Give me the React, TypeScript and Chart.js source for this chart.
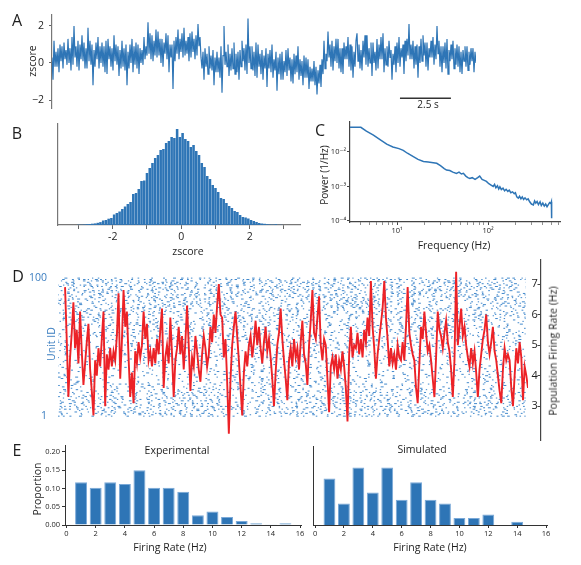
import React, { useEffect, useRef } from 'react';
import { Chart, registerables } from 'chart.js';

Chart.register(...registerables);

const FONT = "'Open Sans', 'DejaVu Sans', sans-serif";
const BLUE = '#2e75b6';
const RASTER_BLUE = '#4289cc';
const LABEL_BLUE = '#3a7dc0';
const RED = '#ec2227';
const TEXT = '#1e1e1e';

// ---------- Panel A: z-scored trace ----------
const traceA = [
  0.3,-0.9,1.2,-0.2,0.6, -0.2,0.8,-0.5,1.0,0.1, 0.9,-0.3,1.1,0.2,0.7, -0.1,1.3,0.0,0.8,-0.4,
  1.4,-0.1,2.0,0.3,0.9, -0.2,1.2,-0.4,1.0,0.2, 1.5,0.1,1.1,-0.3,0.8, -0.3,1.9,0.1,1.2,-0.1,
  1.0,-1.2,0.7,-0.2,1.1, 0.2,1.4,-0.3,0.9,0.0, 1.1,-0.2,0.9,-0.5,1.2, -0.6,1.3,0.2,0.9,-0.2,
  0.8,-0.4,1.5,0.1,1.0, -0.1,0.9,-0.7,0.7,-0.3, 1.2,-0.2,0.8,-0.4,1.0, -1.2,0.6,-0.3,1.0,0.0,
  1.3,-0.5,0.9,-0.1,1.1, -0.3,1.0,-0.6,0.8,0.0, 0.7,-0.1,1.4,0.2,0.9, 0.4,2.2,0.5,1.6,0.2,
  1.5,0.1,1.2,0.4,1.8, 0.3,1.7,0.4,1.3,0.0, 1.3,-0.2,1.1,0.5,1.6, 0.2,1.5,-0.5,1.0,0.3,
  1.0,-1.4,1.2,0.1,1.4, 0.5,1.8,0.2,1.3,0.6, 1.6,0.3,1.9,0.4,1.2, 0.5,1.4,0.1,1.6,0.3,
  1.7,0.6,1.3,0.2,1.5, 0.4,2.1,0.9,1.4,0.3, -0.3,0.6,-0.9,0.8,-0.2, 0.5,-0.6,0.9,-0.3,0.4,
  -0.4,0.7,-1.2,0.3,-0.5, 0.6,-0.5,0.3,-0.8,0.9, -1.6,0.4,2.0,-0.1,0.6, -0.2,1.0,-0.7,0.5,-0.4,
  0.8,-0.3,1.1,-0.6,0.5, -0.5,0.6,-0.9,0.7,-0.2, 1.2,0.1,0.8,-0.4,1.0, -0.6,2.4,0.0,0.9,-0.3,
  0.9,-0.4,0.6,-0.7,1.1, -0.8,1.0,-0.2,0.5,-0.6, 0.7,-0.9,0.4,-0.3,0.8, -1.3,0.5,-0.3,0.7,-0.5,
  1.0,-0.8,0.2,-0.4,0.6, -1.5,0.3,-0.6,0.5,-0.9, 0.6,-0.9,0.1,-0.5,0.7, -0.7,0.8,-0.4,0.3,-1.0,
  0.2,-1.1,0.5,-0.6,0.4, -0.5,0.9,-0.9,0.2,-0.7, 0.1,-1.2,0.4,-0.8,0.3, -0.8,0.2,-1.4,-0.2,-1.0,
  -0.3,-1.0,0.1,-1.2,-0.2, -1.7,-0.4,-1.1,-0.1,-1.3, 0.2,-0.6,1.2,-0.3,0.5, 0.1,1.7,0.3,1.0,-0.2,
  1.2,-0.4,0.9,0.1,1.3, 0.0,1.3,-0.3,0.8,-0.5, 0.8,-0.6,1.1,0.2,0.9, 0.2,1.4,-0.2,1.0,-0.4,
  0.9,-0.8,0.6,-0.2,1.2, 1.6,0.1,1.0,-0.3,0.7, -0.4,1.2,0.3,1.5,-0.1, 1.5,-0.2,0.8,0.0,1.1,
  -0.7,1.1,0.0,0.6,-0.4, 1.3,-0.3,1.0,0.2,1.4, 0.2,1.6,-0.5,0.8,-0.1, 0.9,-0.2,1.2,0.3,0.7,
  -0.9,0.5,-0.1,0.9,-0.5, 1.1,0.0,1.4,-0.2,0.8, 0.3,1.0,-0.6,1.2,0.1, 1.3,0.4,2.1,0.2,1.0,
  0.2,1.2,-0.3,0.9,-0.1, 1.0,-0.8,0.9,0.0,1.3, 0.1,1.5,0.4,1.1,-0.2, 1.1,-0.4,0.8,0.3,1.2,
  0.3,1.4,-0.1,1.0,0.2, 2.0,0.5,1.2,-0.2,0.9, -0.5,0.9,0.0,1.1,-0.3, 1.3,-0.6,0.7,0.1,1.0,
  0.2,1.2,-0.3,0.8,-0.1, 1.0,-0.2,0.9,-0.5,0.6, -0.6,0.7,0.1,0.9,-0.2, 0.9,-0.4,0.6,-0.1,0.8,
  0.1,0.8,-0.5,0.6,0.0
];
const traceADuration = 20.8; // seconds
const scaleBarStart = 17.07;
const scaleBarLength = 2.5;
const scaleBarLevel = -1.9;
const ticksA = [-2, 0, 2];

// ---------- Panel B: histogram of z-scores ----------
const histBFirstCenter = -3.16;
const histBBinWidth = 0.08;
const histB = [
  0,0,0.3,0.3,0.5,0.8,1.0,1.3,1.6,2.2,2.9,4.5,5.0,6.3,7.0,10.5,12,13.5,16,18.5,
  21,23,31,32,36,44,44.5,52,57,62,67,70,75,76,82,84,88,87,96,88,
  92,86,84,78,80,74,70,62,58,49,46,40,37,33,27,26,22,19,17,14,
  13,10,8,7.5,6.5,5,4,3,2,1.5,1.2,0.8,0.5,0.4,0.8,0.2,0.2,0,0,0
];
const ticksB = [-3, -2, -1, 0, 1, 2, 3];

// ---------- Panel C: power spectrum ----------
const freqC = [
  3.04,4.0,4.6,5.5,6.5,7.7,9.0,10.5,11.7,13,15.1,17,19.5,22,25,27.3,30,33,35,38,
  41,45,48,51,53.6,57,60,63,67,72,77,81,86,91,96,102,108,114,118,122,
  127,131,135,140,146,152,158,165,171,178,186,194,200,207,215,222,230,238,246,255,
  266,276,287,300,315,325,335,346,358,373,385,400,415,430,445,460,475,490,497,500
];
const powerC = [
  0.052,0.052,0.040,0.031,0.023,0.0168,0.0140,0.0125,0.0112,0.0092,0.0073,0.0061,0.0053,0.0051,0.0049,0.0047,0.0040,0.0033,0.0030,0.0029,
  0.0026,0.0024,0.0026,0.0023,0.0024,0.0020,0.0018,0.0017,0.0018,0.0016,0.0018,0.0020,0.0016,0.0015,0.0014,0.0012,0.0011,0.00100,0.00115,0.00092,
  0.00105,0.00085,0.00098,0.00082,0.00090,0.00075,0.00083,0.00072,0.00078,0.00066,0.00070,0.00062,0.00066,0.00050,0.00046,0.00052,0.00044,0.00050,0.00042,0.00047,
  0.00041,0.00044,0.00036,0.00031,0.00029,0.00038,0.00033,0.00037,0.00030,0.00036,0.00028,0.00033,0.00027,0.00031,0.00026,0.00030,0.00034,0.00032,0.00036,0.00012
];
const ticksCX = [4,5,6,7,8,9,10,20,30,40,50,60,70,80,90,100,200,300,400,500,600];
const labeledCX = [1, 2];
const ticksCY = [1e-4, 1e-3, 1e-2];

// ---------- Panel D: raster + population rate ----------
const rateD = [
  6.9,5.2,3.3,4.6,5.4,6.4,4.9,5.5,4.4,6.1,4.8,3.7,4.4,5.1,5.7,4.2,3.5,2.7,4.5,4.0,4.9,4.3,5.2,6.1,
  3.0,4.7,4.2,4.9,4.3,4.8,4.5,5.3,6.7,3.9,5.1,6.8,5.6,6.1,4.6,3.3,4.1,3.1,4.8,4.4,5.1,4.6,5.0,6.1,
  5.2,5.7,4.5,4.8,4.3,4.9,4.4,5.2,4.7,5.5,6.2,3.6,4.6,5.0,4.4,5.9,4.7,3.3,4.5,4.9,5.6,4.7,5.3,4.2,
  5.1,6.3,5.0,3.5,4.6,4.3,5.3,4.8,4.2,3.8,4.7,5.3,4.9,4.3,4.7,5.6,5.1,6.0,5.4,6.3,7.0,6.0,5.9,4.6,
  5.2,3.8,2.1,3.9,5.0,5.6,6.1,5.3,4.5,3.6,2.7,4.1,4.8,4.3,5.0,5.3,4.6,5.1,5.8,5.0,5.6,4.9,4.4,5.1,
  5.6,4.8,5.2,4.6,3.9,3.0,4.1,5.0,5.4,6.2,5.2,4.5,3.9,3.2,4.5,4.9,4.3,5.2,4.6,4.9,4.2,5.1,5.8,4.7,
  4.4,3.7,5.0,5.8,6.8,5.4,5.2,5.9,6.6,5.0,4.5,5.2,5.0,3.9,2.8,4.3,4.6,4.2,4.7,3.9,4.5,4.2,4.8,4.3,
  3.6,2.5,4.7,5.6,4.6,5.0,4.9,5.4,4.7,5.2,4.6,5.5,5.1,5.9,5.3,7.1,5.6,4.9,3.9,4.7,5.2,5.7,6.2,7.1,
  5.9,5.2,4.3,4.9,4.4,4.7,4.2,5.0,4.6,4.5,5.1,4.5,5.6,6.9,5.4,5.0,4.7,4.5,3.6,3.1,4.4,5.6,5.2,6.1,
  5.4,4.8,5.0,4.5,3.9,3.3,4.6,6.1,5.5,5.3,4.9,5.4,5.8,5.1,4.8,4.2,3.3,4.5,7.4,5.0,5.6,6.2,5.3,5.6,
  5.0,4.6,4.3,4.9,4.4,4.8,4.1,3.3,4.2,4.7,5.2,5.5,6.0,5.1,4.7,5.1,5.6,4.8,4.5,4.0,3.5,3.1,4.2,4.9,
  4.5,4.7,4.5,3.6,3.0,4.0,4.9,4.4,5.1,4.6,3.2,4.3,4.0,3.6
];
const rateStart = 0.3;
const rateEnd = 20;
const rasterDuration = 19.9;
const timeAxisMax = 20;
// relative spike density of each unit, unit 1 (bottom) to unit 100 (top)
const unitDensity = [
  0.9,0.7,1.0,0.8,0.6,0.9,0.75,0.85,0.5,0.95,
  0.7,0.8,0.55,0.9,0.65,0.75,0.45,0.8,0.6,0.7,
  0.4,0.55,0.35,0.6,0.45,0.3,0.5,0.4,0.55,0.35,
  0.45,0.3,0.5,0.4,0.25,0.45,0.35,0.5,0.3,0.4,
  0.55,0.35,0.45,0.6,0.3,0.5,0.4,0.55,0.45,0.35,
  0.5,0.6,0.4,0.55,0.65,0.45,0.6,0.5,0.7,0.4,
  0.6,0.5,0.7,0.45,0.65,0.55,0.75,0.5,0.6,0.7,
  0.65,0.8,0.55,0.7,0.85,0.6,0.75,0.9,0.65,0.8,
  0.7,0.9,0.8,0.6,0.95,0.75,0.85,1.0,0.7,0.9,
  0.8,1.0,0.85,0.75,0.95,0.9,1.0,0.8,0.95,0.85
];
const ticksDUnit = [1, 100];
const ticksDRate = [3, 4, 5, 6, 7];

// ---------- Panel E: firing-rate distributions ----------
const binsE = [1,2,3,4,5,6,7,8,9,10,11,12,13,14,15];
const experimentalE = [0.117,0.102,0.117,0.112,0.150,0.102,0.102,0.091,0.027,0.037,0.022,0.011,0.005,0.001,0.005];
const simulatedE = [0.127,0.059,0.157,0.089,0.157,0.069,0.117,0.069,0.059,0.019,0.019,0.029,0,0.009,0];
const ticksEX = [0,2,4,6,8,10,12,14,16];
const ticksEY = [0,0.05,0.10,0.15,0.20];

// ---------- helpers ----------
// dot-and-gap line style used to render each raster row as a spike train
const DASH_LEN = [1.6, 2.4, 1.4, 3.0, 1.8, 2.0, 1.5, 2.6, 1.3];
const GAP_LEN = [3.5, 7, 2.5, 10, 4.5, 6, 3, 12, 5, 8, 2.8, 15, 4, 9, 6.5, 3.8, 11];
function rasterDash(k: number, density: number): number[] {
  const out: number[] = [];
  for (let j = 0; j < 64; j++) {
    out.push(DASH_LEN[(k * 7 + j * j * 3 + j) % DASH_LEN.length]);
    out.push((GAP_LEN[(k * 17 + j * j * 5 + j * 3) % GAP_LEN.length] / density) * 0.85);
  }
  return out;
}
const rasterOffset = (k: number) => ((k * k * 13 + k * 7) % 53) * 3.1;

const SUP: Record<string, string> = { '-': '\u207B', '0': '\u2070', '1': '\u00B9', '2': '\u00B2', '3': '\u00B3', '4': '\u2074' };
const sup = (n: number) => String(n).split('').map((c) => SUP[c]).join('');
const fixW = (w: number) => (s: any) => { s.width = w; };
const fixH = (h: number) => (s: any) => { s.height = h; };
const setTicks = (vals: number[]) => (s: any) => { s.ticks = vals.map((v) => ({ value: v })); };
const font = (size: number) => ({ size, family: FONT });

const base = {
  responsive: false,
  animation: false as const,
  events: [] as any[],
  normalized: true,
  plugins: { legend: { display: false }, tooltip: { enabled: false }, title: { display: false } },
};

function ChartBox({ left, top, width, height, make }: { left: number; top: number; width: number; height: number; make: () => any }) {
  const ref = useRef<HTMLCanvasElement>(null);
  useEffect(() => {
    const chart = new Chart(ref.current as HTMLCanvasElement, make());
    return () => chart.destroy();
  }, []);
  return (
    <div style={{ position: 'absolute', left, top, width, height }}>
      <canvas ref={ref} width={width} height={height} style={{ width, height, display: 'block' }} />
    </div>
  );
}

function Label({ x, y, text, size = 10.5, rotate = false, color = TEXT }: { x: number; y: number; text: string; size?: number; rotate?: boolean; color?: string }) {
  return (
    <div
      style={{
        position: 'absolute', left: x, top: y, fontFamily: FONT, fontSize: size, lineHeight: 1, color,
        whiteSpace: 'nowrap', transform: `translate(-50%, -50%)${rotate ? ' rotate(-90deg)' : ''}`,
      }}
    >
      {text}
    </div>
  );
}

// ---------- chart configs ----------
const makeA = () => ({
  type: 'line',
  data: {
    datasets: [
      {
        data: traceA.map((v, i) => ({ x: (i * traceADuration) / (traceA.length - 1), y: v })),
        borderColor: BLUE, borderWidth: 1.2, pointRadius: 0, tension: 0,
      },
      {
        data: [
          { x: scaleBarStart, y: scaleBarLevel },
          { x: scaleBarStart + scaleBarLength, y: scaleBarLevel },
        ],
        borderColor: '#333', borderWidth: 1.6, pointRadius: 0,
      },
    ],
  },
  options: {
    ...base,
    layout: { padding: { left: 0, top: 15, right: 14, bottom: 12 }, autoPadding: false },
    scales: {
      x: { type: 'linear', min: 0, max: traceADuration, display: false },
      y: {
        type: 'linear', min: -2.43, max: 2.59, afterFit: fixW(52), afterBuildTicks: setTicks(ticksA),
        ticks: { callback: (v: number) => (v < 0 ? '\u2212' + Math.abs(v) : String(v)), font: font(10.5), color: TEXT, padding: 5 },
        grid: { drawOnChartArea: false, tickLength: 3, color: '#666' },
        border: { color: '#777', width: 1.2 },
      },
    },
  },
});

const makeB = () => ({
  type: 'bar',
  data: {
    datasets: [
      {
        data: histB.map((h, i) => ({ x: histBFirstCenter + i * histBBinWidth, y: h })),
        backgroundColor: BLUE, borderWidth: 0, barPercentage: 0.93, categoryPercentage: 1,
      },
    ],
  },
  options: {
    ...base,
    layout: { padding: { left: 0, top: 9, right: 20, bottom: 0 }, autoPadding: false },
    scales: {
      x: {
        type: 'linear', min: -3.6, max: 3.47, offset: false, afterFit: fixH(40), afterBuildTicks: setTicks(ticksB),
        ticks: { callback: (v: number) => (Math.round(v) % 2 === 0 ? String(Math.round(v)) : ''), font: font(10.5), color: TEXT, padding: 2, maxRotation: 0, autoSkip: false },
        grid: { drawOnChartArea: false, tickLength: 4, color: '#666', offset: false },
        border: { color: '#777', width: 1.2 },
      },
      y: {
        type: 'linear', min: 0, max: 101, afterFit: fixW(58),
        ticks: { display: false }, grid: { display: false },
        border: { color: '#777', width: 1.2 },
      },
    },
  },
});

const makeC = () => ({
  type: 'line',
  data: {
    datasets: [
      {
        data: freqC.map((f, i) => ({ x: f, y: powerC[i] })),
        borderColor: BLUE, borderWidth: 1.5, pointRadius: 0, tension: 0,
      },
    ],
  },
  options: {
    ...base,
    layout: { padding: { left: 0, top: 12, right: 21, bottom: 0 }, autoPadding: false },
    scales: {
      x: {
        type: 'logarithmic', min: 3.04, max: 618, afterFit: fixH(38), afterBuildTicks: setTicks(ticksCX),
        ticks: {
          callback: (v: number) => {
            const e = Math.log10(Number(v));
            const r = Math.round(e);
            return Math.abs(e - r) < 1e-6 && labeledCX.includes(r) ? '10' + sup(r) : '';
          },
          font: font(7.5), color: TEXT, padding: 1, maxRotation: 0, autoSkip: false,
        },
        grid: { drawOnChartArea: false, tickLength: 3, color: '#444', tickWidth: (c: any) => { const e = Math.log10(c.tick ? c.tick.value : 1); return Math.abs(e - Math.round(e)) < 1e-6 ? 1 : 0.6; } },
        border: { color: '#444', width: 1.2 },
      },
      y: {
        type: 'logarithmic', min: 9.35e-5, max: 0.074, afterFit: fixW(50), afterBuildTicks: setTicks(ticksCY),
        ticks: { callback: (v: number) => '10' + sup(Math.round(Math.log10(Number(v)))), font: font(7.5), color: TEXT, padding: 1 },
        grid: { drawOnChartArea: false, tickLength: 3, color: '#444' },
        border: { color: '#444', width: 1.2 },
      },
    },
  },
});

const makeD = () => ({
  type: 'line',
  data: {
    datasets: [
      {
        data: rateD.map((v, i) => ({ x: rateStart + (i * (rateEnd - rateStart)) / (rateD.length - 1), y: v })),
        yAxisID: 'y2', borderColor: RED, borderWidth: 1.9, pointRadius: 0, tension: 0, order: 0,
      },
      ...unitDensity.map((d, k) => ({
        data: [
          { x: 0, y: k + 1 },
          { x: rasterDuration, y: k + 1 },
        ],
        yAxisID: 'y', borderColor: RASTER_BLUE, borderWidth: 1.0, pointRadius: 0,
        borderDash: rasterDash(k, d), borderDashOffset: rasterOffset(k), order: 1,
      })),
    ],
  },
  options: {
    ...base,
    layout: { padding: { left: 0, top: 8, right: 39, bottom: 10 }, autoPadding: false },
    scales: {
      x: { type: 'linear', min: 0, max: timeAxisMax, display: false },
      y: {
        type: 'linear', position: 'left', min: -16.1, max: 113.5, afterFit: fixW(58), afterBuildTicks: setTicks(ticksDUnit),
        ticks: { font: font(10.5), color: LABEL_BLUE, padding: 3 },
        grid: { display: false }, border: { display: false },
      },
      y2: {
        type: 'linear', position: 'right', weight: 1, min: 1.894, max: 7.81, afterFit: fixW(13), afterBuildTicks: setTicks(ticksDRate),
        ticks: { font: font(11), color: TEXT, padding: -9.5 },
        grid: { drawOnChartArea: false, drawTicks: true, tickLength: 13, tickBorderDash: [0, 9.5, 3.5, 40], tickColor: '#444', tickWidth: 1 },
        border: { display: false },
      },
      y3: {
        type: 'linear', position: 'right', weight: 2, min: 0, max: 1, afterFit: fixW(1),
        ticks: { display: false }, grid: { display: false },
        border: { color: '#444', width: 1.2 },
      },
    },
  },
});

const makeE = (values: number[], yMax: number, showY: boolean, padTop: number, padRight: number, yWidth: number) => () => ({
  type: 'bar',
  data: {
    datasets: [
      {
        data: binsE.map((b, i) => ({ x: b, y: values[i] })),
        backgroundColor: BLUE, borderColor: '#7aa9d8', borderWidth: 1, barPercentage: 0.82, categoryPercentage: 1,
      },
    ],
  },
  options: {
    ...base,
    layout: { padding: { left: 0, top: padTop, right: padRight, bottom: 0 }, autoPadding: false },
    scales: {
      x: {
        type: 'linear', min: showY ? -0.1 : -0.14, max: 16.1, offset: false, afterFit: fixH(35), afterBuildTicks: setTicks(ticksEX),
        ticks: { font: font(7.5), color: TEXT, padding: 1.5, maxRotation: 0, autoSkip: false },
        grid: { drawOnChartArea: false, tickLength: 3, color: '#333', offset: false },
        border: { color: '#333', width: 1 },
      },
      y: showY
        ? {
            type: 'linear', min: 0, max: yMax, afterFit: fixW(yWidth), afterBuildTicks: setTicks(ticksEY),
            ticks: { callback: (v: number) => Number(v).toFixed(2), font: font(7.5), color: TEXT, padding: 2 },
            grid: { drawOnChartArea: false, tickLength: 3, color: '#333' },
            border: { color: '#333', width: 1 },
          }
        : {
            type: 'linear', min: 0, max: yMax, afterFit: fixW(yWidth),
            ticks: { display: false }, grid: { display: false },
            border: { color: '#333', width: 1 },
          },
    },
  },
});

Chart.defaults.font.family = FONT;

export default function App() {
  return (
    <div style={{ position: 'absolute', left: 0, top: 0, width: 581, height: 565, overflow: 'hidden', background: '#fff' }}>
      <ChartBox left={0} top={0} width={490} height={120} make={makeA} />
      <ChartBox left={0} top={115} width={320} height={150} make={makeB} />
      <ChartBox left={300} top={110} width={281} height={150} make={makeC} />
      <ChartBox left={0} top={250} width={581} height={200} make={makeD} />
      <ChartBox left={0} top={435} width={310} height={125} make={makeE(experimentalE, 0.219, true, 10, 8.5, 65)} />
      <ChartBox left={305} top={435} width={276} height={125} make={makeE(simulatedE, 0.216, false, 11, 33.5, 8)} />

      <Label x={17} y={20} text="A" size={16} />
      <Label x={32} y={61} text="zscore" rotate />
      <Label x={428} y={104} text="2.5 s" size={10} />

      <Label x={17} y={133} text="B" size={16} />
      <Label x={188} y={251} text="zscore" />

      <Label x={320} y={130} text="C" size={16} />
      <Label x={324} y={175} text="Power (1/Hz)" size={10} rotate />
      <Label x={454} y={245} text="Frequency (Hz)" />

      <Label x={18} y={276} text="D" size={16} />
      <Label x={51} y={344} text="Unit ID" rotate color={LABEL_BLUE} />
      <Label x={553} y={351} text="Population Firing Rate (Hz)" rotate />

      <Label x={17} y={450} text="E" size={16} />
      <Label x={177} y={449.5} text="Experimental" />
      <Label x={37} y={488.5} text="Proportion" rotate />
      <Label x={170} y={547} text="Firing Rate (Hz)" />
      <Label x={422} y={449} text="Simulated" />
      <Label x={430} y={547} text="Firing Rate (Hz)" />
    </div>
  );
}
